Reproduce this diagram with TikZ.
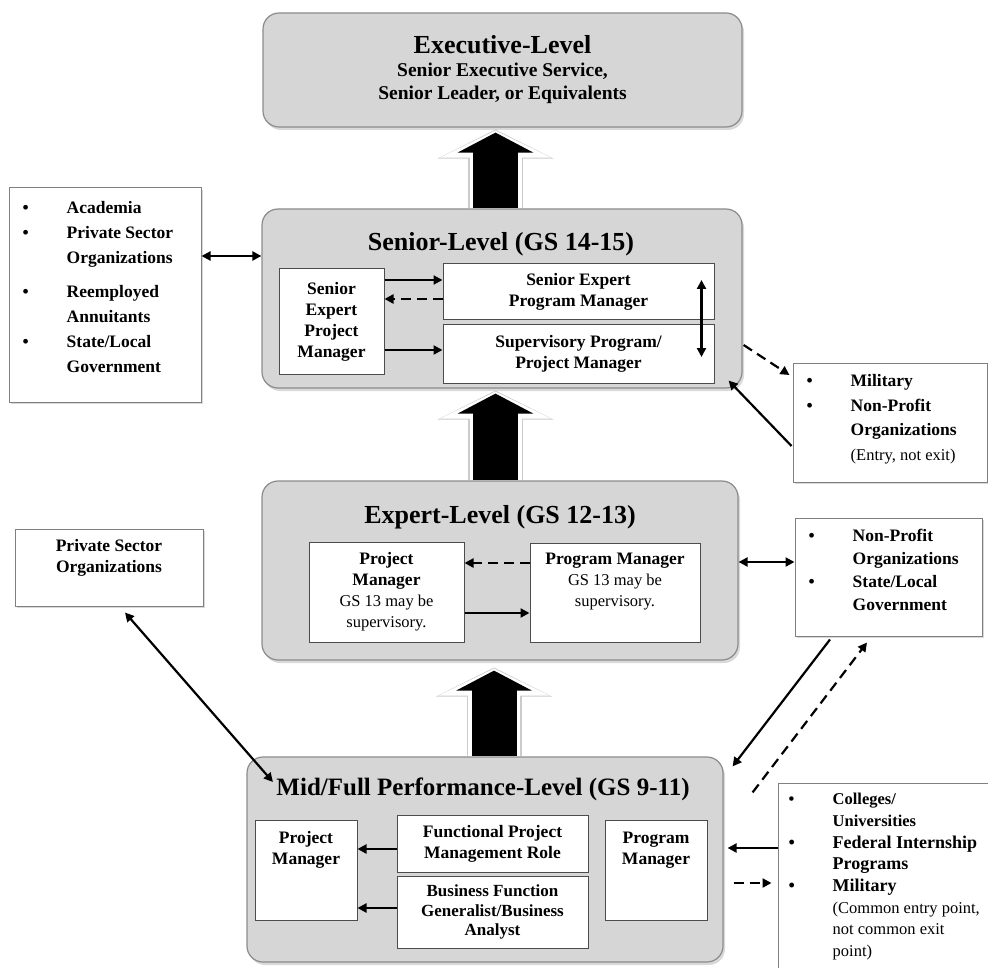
\documentclass[tikz,border=0pt]{standalone}
\usepackage{fontspec}
\setmainfont{Liberation Serif}
\usetikzlibrary{arrows.meta,shadows}

\newcommand{\itm}{\makebox[44pt][l]{\textbullet}}
\newcommand{\ind}{\hspace*{44pt}}
\newcommand{\rg}{\mdseries\fontsize{16.5}{20}\selectfont}
\newcommand{\sm}{\fontsize{16.5}{20}\selectfont}

\begin{document}
\begin{tikzpicture}[x=1pt, y=-1pt,
  level/.style={draw=black!45, line width=1.2pt, fill=gray!32, rounded corners=16pt,
    drop shadow={shadow xshift=2pt, shadow yshift=-3pt, opacity=0.3}},
  inbox/.style={draw=black!70, line width=1pt, fill=white, align=center, inner sep=2pt,
    font=\fontsize{17.5}{21}\selectfont\bfseries},
  outbox/.style={draw=black!50, line width=1pt, fill=white,
    drop shadow={shadow xshift=2pt, shadow yshift=-2pt, opacity=0.3}},
  title/.style={font=\fontsize{26}{30}\selectfont\bfseries},
  lst/.style={anchor=north west, align=left, inner sep=0pt, font=\fontsize{17.5}{25}\selectfont\bfseries},
  toptxt/.style={anchor=north, align=center, inner sep=0pt, font=\fontsize{17.5}{21}\selectfont\bfseries},
  arr/.style={line width=2.8pt, -{Triangle[length=9pt,width=9pt]}},
  dsh/.style={arr, dash pattern=on 10pt off 6pt},
  dbl/.style={line width=2.8pt, {Triangle[length=9pt,width=9pt]}-{Triangle[length=9pt,width=9pt]}},
  bigo/.style={line width=55pt, draw=gray!40, -{Triangle[length=29pt,width=115pt]}},
  bigw/.style={line width=52pt, draw=white, -{Triangle[length=27pt,width=110pt]}},
  bigb/.style={line width=45pt, draw=black, -{Triangle[length=20pt,width=75pt]}}]

\clip (0,0) rectangle (988,968);

% levels
\node[level, minimum width=479pt, minimum height=114pt, align=center,
  font=\fontsize{19.5}{23}\selectfont\bfseries] (exec) at (502.5,70)
  {\fontsize{26}{30}\selectfont Executive-Level\\ Senior Executive Service,\\ Senior Leader, or Equivalents};
\node[level, minimum width=480pt, minimum height=179pt] (senior) at (502,298.5) {};
\node[level, minimum width=476pt, minimum height=179pt] (expert) at (500,570.5) {};
\node[level, minimum width=476pt, minimum height=205pt] (mid) at (485,859.5) {};

\node[title] (senttl) at (501,244) {Senior-Level (GS 14-15)};
\node[title] (expttl) at (500,517) {Expert-Level (GS 12-13)};
\node[title, font=\fontsize{25}{30}\selectfont\bfseries] (midttl) at (483,789) {Mid/Full Performance-Level (GS 9-11)};

% big arrows between levels
\foreach \s/\t in {bigo/2pt, bigw/3pt, bigb/5pt}
  \draw[\s, shorten >=\t] ([xshift=-6.5pt]senior.north) -- ([xshift=-7pt]exec.south);
\foreach \s/\t in {bigo/2pt, bigw/3pt, bigb/5pt}
  \draw[\s, shorten >=\t] ([xshift=-4.5pt]expert.north) -- ([xshift=-6.5pt]senior.south);
\foreach \s/\t in {bigo/7pt, bigw/8pt, bigb/10pt}
  \draw[\s, shorten >=\t] ([xshift=9pt]mid.north) -- ([xshift=-6pt]expert.south);

% senior level boxes
\node[inbox, minimum width=105pt, minimum height=105pt] (sepm) at (331.5,321.5) {Senior\\Expert\\Project\\Manager};
\node[inbox, minimum width=271pt, minimum height=56pt] (sepgm) at (578.5,292) {Senior Expert\\Program Manager};
\node[inbox, minimum width=271pt, minimum height=58pt] (spm) at (578.5,354) {Supervisory Program/\\Project Manager};

\draw[arr] ([yshift=41.5pt]sepm.east) -- ([yshift=12pt]sepgm.west);
\draw[dsh] ([yshift=-7pt]sepgm.west) -- ([yshift=22.5pt]sepm.east);
\draw[arr] ([yshift=-28.5pt]sepm.east) -- ([yshift=4pt]spm.west);
\draw[dbl] ([xshift=-13pt,yshift=12pt]sepgm.east) -- ([xshift=-13pt,yshift=-3pt]spm.east);

% expert level boxes
\node[inbox, minimum width=155pt, minimum height=100pt] (epjm) at (386.5,592)
  {Project\\Manager\\\rg GS 13 may be\\\rg supervisory.};
\node[inbox, minimum width=170pt, minimum height=99pt,
  label={[toptxt, yshift=-10pt]north:{Program Manager\\\rg GS 13 may be\\\rg supervisory.}}] (epgm) at (615,592.5) {};

\draw[dsh] ([yshift=29.5pt]epgm.west) -- ([yshift=29pt]epjm.east);
\draw[arr] ([yshift=-21pt]epjm.east) -- ([yshift=-20.5pt]epgm.west);

% mid level boxes
\node[inbox, minimum width=102pt, minimum height=100pt,
  label={[toptxt, yshift=-12pt]north:{Project\\Manager}}] (mpjm) at (306,870) {};
\node[inbox, minimum width=191pt, minimum height=57pt] (fpmr) at (492.5,843.5) {Functional Project\\Management Role};
\node[inbox, minimum width=191pt, minimum height=72pt, font=\fontsize{17}{19.5}\selectfont\bfseries] (bfga) at (492.5,912)
  {Business Function\\Generalist/Business\\Analyst};
\node[inbox, minimum width=102pt, minimum height=100pt,
  label={[toptxt, yshift=-12pt]north:{Program\\Manager}}] (mpgm) at (656,870) {};

\draw[arr] ([yshift=-5.5pt]fpmr.west) -- ([yshift=21pt]mpjm.east);
\draw[arr] ([yshift=4pt]bfga.west) -- ([yshift=-38pt]mpjm.east);

% outside sources
\node[outbox, minimum width=192pt, minimum height=214pt,
  label={[lst, xshift=14pt, yshift=-14pt]north west:{\itm Academia\\ \itm Private Sector\\ \ind Organizations\\[9pt]
    \itm Reemployed\\ \ind Annuitants\\ \itm State/Local\\ \ind Government}}] (acad) at (105,295) {};
\node[outbox, minimum width=194pt, minimum height=119pt,
  label={[lst, xshift=14pt, yshift=-12pt, font=\fontsize{17.5}{24.5}\selectfont\bfseries]north west:{\itm Military\\ \itm Non-Profit\\
    \ind Organizations\\ \ind\rg (Entry, not exit)}}] (mil) at (890,422.5) {};
\node[outbox, minimum width=188pt, minimum height=77pt,
  label={[toptxt, yshift=-11pt]north:{Private Sector\\Organizations}}] (prv) at (109,567.5) {};
\node[outbox, minimum width=187pt, minimum height=118pt,
  label={[lst, xshift=14pt, yshift=-11pt, font=\fontsize{17.5}{23}\selectfont\bfseries]north west:{\itm Non-Profit\\ \ind Organizations\\
    \itm State/Local\\ \ind Government}}] (np) at (888.5,577) {};
\node[outbox, minimum width=222pt, minimum height=207pt,
  label={[lst, xshift=11pt, yshift=-10.5pt, font=\fontsize{18}{21.7}\selectfont\bfseries]north west:{\sm\itm Colleges/\\ \sm\ind Universities\\
    \itm Federal Internship\\ \ind Programs\\ \itm Military\\ \ind\rg (Common entry point,\\ \ind\rg not common exit\\ \ind\rg point)}}] (col) at (889,886.5) {};

% moves in and out
\draw[dbl, line width=2.2pt] ([yshift=39pt]acad.east) -- ([yshift=42.5pt]senior.west);
\draw[dsh, line width=2.2pt] ([xshift=1pt,yshift=-46.5pt]senior.east) -- ([xshift=-3pt,yshift=47.5pt]mil.west);
\draw[arr, line width=2.2pt] ([xshift=-1pt,yshift=-23.5pt]mil.west) -- ([xshift=-14pt,yshift=8pt]senior.south east);
\draw[dbl, line width=2.2pt] ([yshift=8.5pt]expert.east) -- ([yshift=15pt]np.west);
\draw[dbl, line width=2.2pt] ([xshift=16pt,yshift=-6pt]prv.south) -- ([yshift=7pt]midttl.west);
\draw[arr, line width=2.2pt] ([xshift=-58.5pt,yshift=-3pt]np.south) -- ([xshift=9pt,yshift=-10pt]mid.north east);
\draw[dsh, line width=2.2pt] ([xshift=29pt,yshift=-36pt]mid.north east) -- ([xshift=-21.5pt,yshift=-6pt]np.south);
\draw[arr, line width=2.2pt] ([yshift=38.5pt]col.west) -- ([xshift=4pt,yshift=11.5pt]mid.east);
\draw[dsh, line width=2.2pt] ([xshift=10pt,yshift=-23.5pt]mid.east) -- ([xshift=-6pt,yshift=3.5pt]col.west);

\end{tikzpicture}
\end{document}
